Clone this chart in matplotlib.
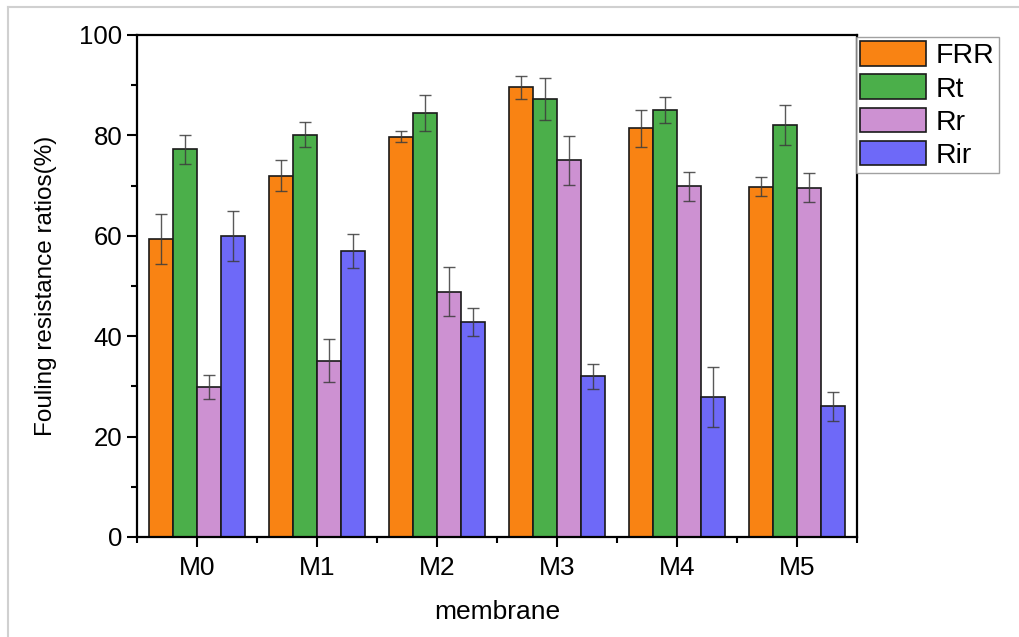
import matplotlib.pyplot as plt
import numpy as np
from matplotlib.lines import Line2D
from matplotlib.ticker import MultipleLocator

plt.rcParams["font.family"] = ["Liberation Sans", "DejaVu Sans"]

membranes = ["M0", "M1", "M2", "M3", "M4", "M5"]
series_names = ["FRR", "Rt", "Rr", "Rir"]

frr = [59.3, 72.0, 79.7, 89.6, 81.4, 69.8]
frr_err = [5.0, 3.1, 1.1, 2.3, 3.7, 1.9]
rt = [77.2, 80.1, 84.5, 87.2, 85.0, 82.1]
rt_err = [2.9, 2.5, 3.6, 4.2, 2.6, 4.0]
rr = [29.9, 35.1, 48.9, 75.0, 69.9, 69.6]
rr_err = [2.4, 4.3, 4.9, 4.9, 2.9, 2.9]
rir = [60.0, 57.0, 42.9, 32.0, 27.9, 26.0]
rir_err = [5.0, 3.4, 2.8, 2.5, 5.9, 2.9]

colors = ["#F98313", "#4BAF4A", "#CD91D2", "#6E69F8"]

fig = plt.figure(figsize=(10.19, 6.37), dpi=100)
ax = fig.add_axes([137 / 1019, 100 / 637, 720 / 1019, 502 / 637])

x = np.arange(len(membranes))
width = 0.2
values = [frr, rt, rr, rir]
errors = [frr_err, rt_err, rr_err, rir_err]
handles = []
for i, (vals, errs, col, name) in enumerate(zip(values, errors, colors, series_names)):
    pos = x + (i - 1.5) * width
    b = ax.bar(pos, vals, width, color=col, edgecolor="#1a1a1a", linewidth=1.2,
               label=name, zorder=2)
    ax.errorbar(pos, vals, yerr=errs, fmt="none", ecolor="#3c3c3c", elinewidth=1.0,
                capsize=4.5, capthick=1.0, alpha=0.85, zorder=3)
    handles.append(b)

ax.set_xlim(-0.5, len(membranes) - 0.5)
ax.set_ylim(0, 100)
ax.set_xticks(x)
ax.set_xticklabels(membranes, fontsize=19)
ax.xaxis.set_minor_locator(MultipleLocator(1, offset=0.5))
ax.yaxis.set_major_locator(MultipleLocator(20))
ax.yaxis.set_minor_locator(MultipleLocator(10))
ax.tick_params(axis="y", which="major", labelsize=18.5, length=7, width=1.5, direction="out")
ax.tick_params(axis="y", which="minor", length=4, width=1.5, direction="out")
ax.tick_params(axis="x", which="major", length=7, width=1.5, direction="out", pad=7)
ax.tick_params(axis="x", which="minor", length=4, width=1.5, direction="out")
for s in ax.spines.values():
    s.set_linewidth(1.6)

ax.set_ylabel("Fouling resistance ratios(%)", fontsize=17.5, labelpad=16)
ax.set_xlabel("membrane", fontsize=19, labelpad=14)

leg = fig.legend(handles=handles, labels=series_names, loc="upper left",
                 bbox_to_anchor=(856 / 1019, 1 - 37 / 637), fontsize=20.5,
                 frameon=True, fancybox=False, edgecolor="#8a8a8a",
                 handlelength=2.3, handleheight=0.95, handletextpad=0.35,
                 labelspacing=0.18, borderpad=0.15, borderaxespad=0)
leg.get_frame().set_linewidth(1.0)

# thin frame around the top and left of the figure
fig.add_artist(Line2D([8 / 1019, 1], [1 - 7 / 637, 1 - 7 / 637], color="#d0d0d0", lw=1.5))
fig.add_artist(Line2D([8 / 1019, 8 / 1019], [0, 1 - 7 / 637], color="#d0d0d0", lw=1.5))

fig.savefig("out.png", dpi=100)
